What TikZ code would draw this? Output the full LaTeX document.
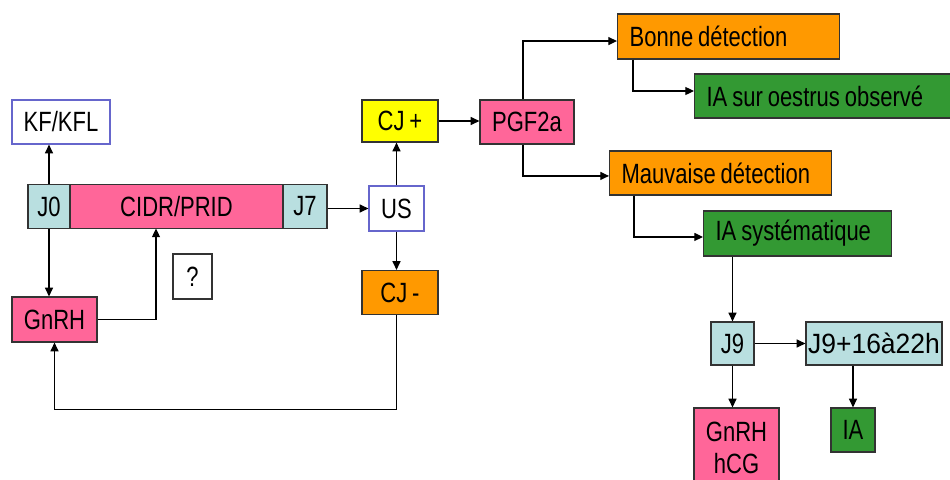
\documentclass[tikz,border=0pt]{standalone}
\usepackage{fontspec}
\setmainfont{Liberation Sans}[FakeStretch=0.79,WordSpace=0.8]
\newfontfamily\widefont{Liberation Sans}[FakeStretch=0.95]
\usetikzlibrary{arrows.meta}
\definecolor{rose}{HTML}{FF6699}
\definecolor{bleuclair}{HTML}{B9DFE0}
\definecolor{jaune}{HTML}{FFFF00}
\definecolor{orangebox}{HTML}{FF9900}
\definecolor{vert}{HTML}{339933}
\definecolor{cadre}{HTML}{6666CC}
\begin{document}
\begin{tikzpicture}[x=0.75pt,y=-0.75pt,line width=0.9pt,>={Triangle[length=6.5pt,width=6pt]},
  box/.style={draw=black!80,line width=0.9pt,inner sep=0pt,minimum height=33pt,font=\fontsize{20.9}{24}\selectfont},
  lbox/.style={box,anchor=west,inner xsep=9pt,align=flush left}]
\useasboundingbox (0,0) rectangle (950,479);
\clip (0,0) rectangle (950,479);

% protocole
\node[box,draw=cadre,fill=white,minimum width=73.5pt] (kf) at (61,122) {KF/KFL};
\node[box,fill=bleuclair,minimum width=31.5pt] (j0) at (49,206.5) {J0};
\node[box,fill=rose,minimum width=159.75pt] (cidr) at (176.5,206.5) {CIDR/PRID};
\node[box,fill=bleuclair,minimum width=33pt] (j7) at (305,206.5) {J7};
\node[box,draw=cadre,fill=white,minimum width=41.25pt,minimum height=33.75pt] (us) at (396.5,208.5) {US};
\node[box,fill=jaune,minimum width=57pt,minimum height=31.5pt] (cjp) at (400,121) {CJ +};
\node[box,fill=orangebox,minimum width=57pt] (cjm) at (400,292.5) {CJ -};
\node[box,fill=rose,minimum width=70.5pt] (pgf) at (527,122) {PGF2a};
\node[box,fill=white,minimum width=29.25pt,minimum height=33.75pt] (q) at (192.5,276.5) {?};
\node[box,fill=rose,minimum width=63.75pt,minimum height=33.75pt] (gnrh) at (54.5,319.5) {GnRH};
\coordinate (cidrin) at (156,228.5);

% detection
\node[lbox,fill=orangebox,text width=148.5pt,minimum height=33.75pt] (bonne) at (617,36.5) {Bonne détection};
\node[lbox,fill=vert,text width=180pt] (iaobs) at (694,96) {IA sur oestrus observé};
\node[lbox,fill=orangebox,text width=148.5pt] (mauv) at (609,173) {Mauvaise détection};
\node[lbox,fill=vert,text width=123pt,minimum height=33.75pt] (iasys) at (703,233.5) {IA systématique};
\node[box,fill=bleuclair,minimum width=32.25pt,minimum height=32.25pt] (j9) at (732.5,343.5) {J9};
\node[box,fill=bleuclair,minimum width=102pt,minimum height=32.25pt,font=\fontsize{20.9}{24}\widefont] (j9b) at (874,343.5) {J9+16à22h};
\node[box,fill=rose,minimum width=63.75pt,minimum height=59.25pt,align=center] (gnhcg) at (736.5,447.5) {GnRH\\hCG};
\node[box,fill=vert,minimum width=33pt] (ia) at (853,430) {IA};

\draw[->] (j0.north) -- (j0.north |- kf.south);
\draw[->] (j0.south) -- (j0.south |- gnrh.north);
\draw[->] (gnrh.east) -| (cidrin);
\draw[->] (j7.east |- us.west) -- (us.west);
\draw[->] (us.north) -- (us.north |- cjp.south);
\draw[->] (us.south) -- (us.south |- cjm.north);
\draw[->] (cjm.south -| us.south) -- ++(0,94) -| (gnrh.south);
\draw[->] (cjp.east) -- (cjp.east -| pgf.west);

\draw[->] ([xshift=-3pt]pgf.north) |- ([yshift=-3.4pt]bonne.west);
\draw[->] ([xshift=-3pt]pgf.south) |- ([yshift=-2.2pt]mauv.west);
\draw[->] ([xshift=12pt]bonne.south west) |- ([yshift=3.75pt]iaobs.west);
\draw[->] ([xshift=18.75pt]mauv.south west) |- ([yshift=-2.6pt]iasys.west);
\draw[->] (iasys.south -| j9.north) -- (j9.north);
\draw[->] (j9.east) -- (j9b.west);
\draw[->] (j9.south) -- (j9.south |- gnhcg.north);
\draw[->] (j9b.south -| ia.north) -- (ia.north);
\end{tikzpicture}
\end{document}
